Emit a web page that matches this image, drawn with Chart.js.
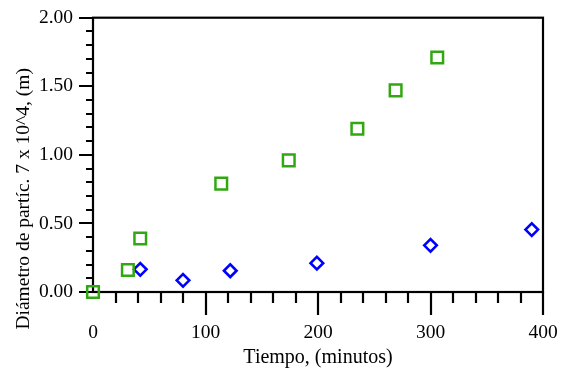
<!DOCTYPE html>
<html>
<head>
<meta charset="utf-8">
<script src="https://cdn.jsdelivr.net/npm/chart.js@4/dist/chart.umd.min.js"></script>
<style>
  html, body { margin: 0; padding: 0; background: #fff; }
  #wrap { width: 570px; height: 374px; }
</style>
</head>
<body>
<div id="wrap"><canvas id="chart"></canvas></div>
<script>
// green squares
const tiempoA = [0, 31, 42, 114, 174, 235, 269, 306];
const diamA = [0.00, 0.16, 0.39, 0.79, 0.96, 1.19, 1.47, 1.71];
// blue diamonds
const tiempoB = [42, 80, 122, 199, 300, 390];
const diamB = [0.165, 0.085, 0.155, 0.21, 0.34, 0.455];

const xTitle = 'Tiempo, (minutos)';
const yTitle = 'Diámetro de partíc. 7 x 10^4, (m)';
const FONT = 'Liberation Serif';

const toPts = (xs, ys) => xs.map((x, i) => ({ x: x, y: ys[i] }));

// box frame + major/minor tick marks
const frame = {
    id: 'frame',
    beforeDatasetsDraw(chart) {
        const ctx = chart.ctx;
        const a = chart.chartArea;
        const xs = chart.scales.x, ys = chart.scales.y;
        ctx.save();
        ctx.strokeStyle = '#000';
        ctx.lineWidth = 2.2;
        ctx.strokeRect(a.left, a.top, a.right - a.left, a.bottom - a.top);
        ctx.beginPath();
        for (let i = 0; i <= 20; i++) {
            const py = Math.round(ys.getPixelForValue(i / 10));
            const len = i % 5 === 0 ? 14 : 7;
            ctx.moveTo(a.left, py);
            ctx.lineTo(a.left - len, py);
        }
        for (let i = 1; i <= 20; i++) {
            const px = Math.round(xs.getPixelForValue(i * 20));
            const len = i % 5 === 0 ? 23 : 11;
            ctx.moveTo(px, a.bottom);
            ctx.lineTo(px, a.bottom + len);
        }
        ctx.stroke();
        // y title
        ctx.fillStyle = '#000';
        ctx.font = '19.5px "' + FONT + '"';
        ctx.translate(a.left - 69, (a.top + a.bottom) / 2 + 44);
        ctx.rotate(-Math.PI / 2);
        ctx.textAlign = 'center';
        ctx.textBaseline = 'middle';
        ctx.fillText(yTitle, 0, 0);
        ctx.restore();
    }
};

const chart = new Chart(document.getElementById('chart'), {
    type: 'scatter',
    data: {
        datasets: [
            {
                data: toPts(tiempoA, diamA),
                pointStyle: 'rect',
                pointRadius: 8.2,
                pointHoverRadius: 8.2,
                borderColor: '#31a812',
                backgroundColor: 'rgba(0,0,0,0)',
                pointBorderWidth: 2.5,
                borderWidth: 2.5,
                clip: false
            },
            {
                data: toPts(tiempoB, diamB),
                pointStyle: 'rectRot',
                pointRadius: 6.3,
                pointHoverRadius: 6.3,
                borderColor: '#0000ff',
                backgroundColor: 'rgba(0,0,0,0)',
                pointBorderWidth: 2.6,
                borderWidth: 2.6,
                clip: false
            }
        ]
    },
    options: {
        responsive: true,
        maintainAspectRatio: false,
        animation: false,
        layout: {
            padding: { top: 15, right: 27, left: 0, bottom: 0 }
        },
        plugins: {
            legend: { display: false },
            tooltip: { enabled: false }
        },
        scales: {
            x: {
                type: 'linear',
                min: 0,
                max: 400,
                afterFit: (s) => { s.height = 82; },
                border: { display: false },
                grid: {
                    drawOnChartArea: false,
                    color: 'rgba(0,0,0,0)',
                    tickLength: 23
                },
                ticks: {
                    stepSize: 100,
                    color: '#000',
                    padding: 6,
                    maxRotation: 0,
                    font: { family: FONT, size: 19.5 }
                },
                title: {
                    display: true,
                    text: xTitle,
                    color: '#000',
                    padding: { top: 0, bottom: 4 },
                    font: { family: FONT, size: 20 }
                }
            },
            y: {
                type: 'linear',
                min: 0,
                max: 2,
                afterFit: (s) => { s.width = 93; },
                border: { display: false },
                grid: {
                    drawOnChartArea: false,
                    color: 'rgba(0,0,0,0)',
                    tickLength: 14
                },
                ticks: {
                    stepSize: 0.5,
                    color: '#000',
                    padding: 6,
                    font: { family: FONT, size: 19.5 },
                    callback: (v) => v.toFixed(2)
                }
            }
        }
    },
    plugins: [frame]
});
</script>
</body>
</html>
